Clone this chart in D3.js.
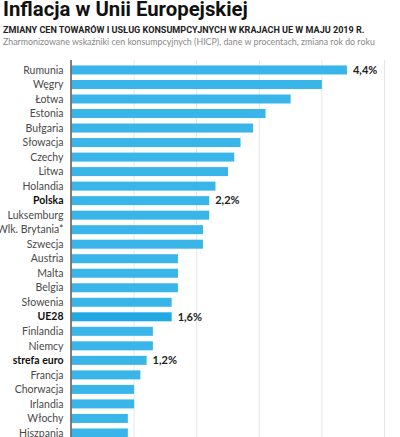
<!DOCTYPE html>
<html><head><meta charset="utf-8">
<script src="https://cdn.jsdelivr.net/npm/d3@7"></script>
<style>body{margin:0;background:#fff;overflow:hidden}svg{display:block}</style>
</head><body>
<script>
const categories = ["Rumunia","Węgry","Łotwa","Estonia","Bułgaria","Słowacja","Czechy","Litwa","Holandia","Polska","Luksemburg","Wlk. Brytania*","Szwecja","Austria","Malta","Belgia","Słowenia","UE28","Finlandia","Niemcy","strefa euro","Francja","Chorwacja","Irlandia","Włochy","Hiszpania"];
const values = [4.4,4.0,3.5,3.1,2.9,2.7,2.6,2.5,2.3,2.2,2.2,2.1,2.1,1.7,1.7,1.7,1.6,1.6,1.3,1.3,1.2,1.1,1.0,1.0,0.9,0.9];
const highlighted = ["Polska","UE28","strefa euro"];
const labelled = ["Rumunia","Polska","UE28","strefa euro"];
const ticks = [0,1,2,3,4,5];
const title = "Inflacja w Unii Europejskiej";
const subtitle = "ZMIANY CEN TOWARÓW I USŁUG KONSUMPCYJNYCH W KRAJACH UE W MAJU 2019 R.";
const note = "Zharmonizowane wskaźniki cen konsumpcyjnych (HICP), dane w procentach, zmiana rok do roku";

const W = 400, H = 437;
const svg = d3.select("body").append("svg").attr("width", W).attr("height", H);
const font = "Lato, 'Open Sans', sans-serif";

function fitText(sel, width){
  const n = sel.node(); const fs = parseFloat(sel.attr("font-size"));
  const w = n.getComputedTextLength();
  sel.attr("font-size", fs * width / w);
}
fitText(svg.append("text").attr("x",3).attr("y",15.5).attr("font-family","Roboto, Lato, sans-serif").attr("font-weight",700).attr("font-size",22).attr("fill","#111").text(title), 245);
fitText(svg.append("text").attr("x",3).attr("y",33).attr("font-family","Roboto, Lato, sans-serif").attr("font-weight",700).attr("font-size",11).attr("fill","#222").text(subtitle), 362);
fitText(svg.append("text").attr("x",3).attr("y",44.5).attr("font-family",font).attr("font-weight",400).attr("font-size",10).attr("fill","#888").text(note), 372);

const x = d3.scaleLinear().domain([0,5]).range([71.5, 384.5]);
const y = d3.scaleBand().domain(categories).range([62.7, 62.7 + 26*14.52]).paddingInner(0.38).paddingOuter(0.19);

svg.append("g").selectAll("line").data(ticks.slice(1)).join("line")
  .attr("x1", d=>x(d)).attr("x2", d=>x(d)).attr("y1",60).attr("y2",H)
  .attr("stroke","#e6e6e6").attr("stroke-width",1);

const data = categories.map((c,i)=>({c, v: values[i]}));
svg.append("g").selectAll("rect").data(data).join("rect")
  .attr("x", x(0)).attr("y", d=>y(d.c)).attr("width", d=>x(d.v)-x(0)).attr("height", y.bandwidth())
  .attr("fill", d=> d.c==="UE28" ? "#22a8e2" : "#39b5e9");

svg.append("line").attr("x1",71).attr("x2",71).attr("y1",60).attr("y2",H).attr("stroke","#555").attr("stroke-width",1.5);

svg.append("g").selectAll("text").data(data).join("text")
  .attr("x", 63.5).attr("y", d=>y(d.c)+y.bandwidth()/2).attr("dy","0.35em")
  .attr("text-anchor","end").attr("font-family",font).attr("font-size",10.5)
  .attr("font-weight", d=>highlighted.includes(d.c)?700:400)
  .attr("fill", d=>highlighted.includes(d.c)?"#111":"#4a4a4a")
  .text(d=>d.c);

svg.append("g").selectAll("text").data(data.filter(d=>labelled.includes(d.c))).join("text")
  .attr("x", d=>x(d.v)+6).attr("y", d=>y(d.c)+y.bandwidth()/2).attr("dy","0.35em")
  .attr("font-family",font).attr("font-size",11).attr("font-weight",700).attr("fill","#222")
  .text(d=>d3.format(".1f")(d.v).replace(".",",")+"%");
</script>
</body></html>
